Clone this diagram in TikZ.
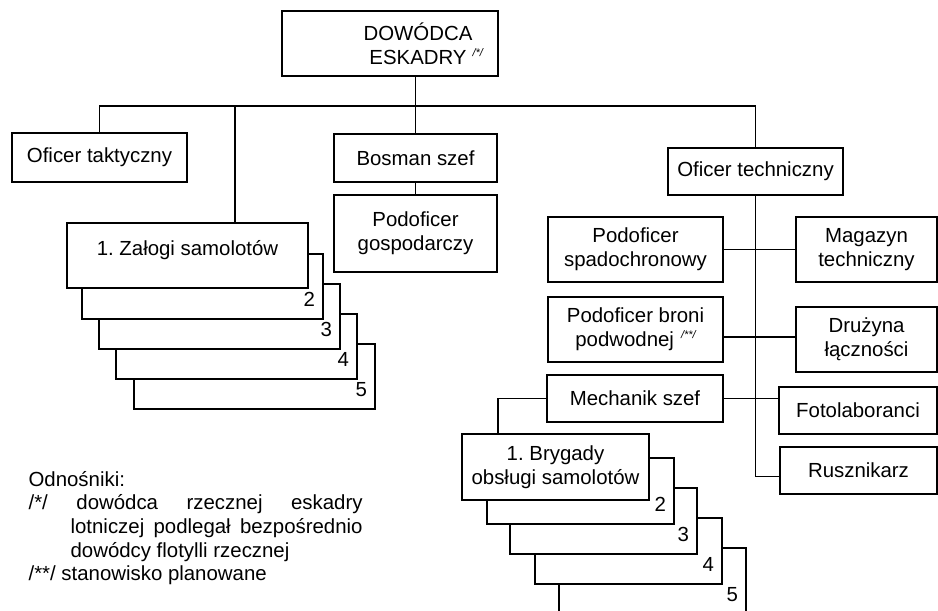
\documentclass[tikz,border=0pt]{standalone}
\usepackage{fontspec}
\setmainfont{Liberation Sans}
\usetikzlibrary{calc}
\frenchspacing
\newcommand\refmark[1]{\raisebox{8pt}{\fontsize{11}{11}\selectfont\itshape #1}}
\begin{document}
\begin{tikzpicture}[x=1pt, y=-1pt, line width=1.2pt,
    font=\fontsize{20.4}{24}\selectfont\frenchspacing,
    box/.style={draw, fill=white, align=center, inner sep=0pt},
    num/.style={anchor=base east, inner sep=0pt}]
  \useasboundingbox (0,0) rectangle (938,611);
  %nodes
  \node[box, minimum width=216pt, minimum height=65pt] at (390,43.5) (dow) {};
  \node[align=center, inner sep=0pt] at (418,43.5) (dowtxt) {DOWÓDCA\\ESKADRY\rlap{\hspace{6pt}\refmark{/*/}}};
  \node[box, minimum width=175pt, minimum height=49pt] at (99.5,157.5) (otak) {Oficer taktyczny};
  \node[box, minimum width=163pt, minimum height=48pt] at (415.5,158) (bos) {Bosman szef};
  \node[box, minimum width=163pt, minimum height=77pt] at (415.5,233.5) (pgos) {Podoficer\\gospodarczy};
  \node[box, minimum width=175pt, minimum height=47pt] at (755.5,171.5) (otech) {Oficer techniczny};
  \node[box, minimum width=175pt, minimum height=65pt] at (635.5,249.5) (pspad) {Podoficer\\spadochronowy};
  \node[box, minimum width=141pt, minimum height=65pt] at (866.5,249.5) (mag) {Magazyn\\techniczny};
  \node[box, minimum width=175pt, minimum height=65pt] at (635.5,329.5) (pbron) {Podoficer broni\\podwodnej\hspace{7pt}\refmark{/**/}};
  \node[box, minimum width=141pt, minimum height=65pt] at (866.5,339.5) (druz) {Drużyna\\łączności};
  \node[box, minimum width=176pt, minimum height=47pt] at (635,398.5) (mech) {Mechanik szef};
  \node[box, minimum width=158pt, minimum height=47pt] at (858,410.5) (foto) {Fotolaboranci};
  \node[box, minimum width=157pt, minimum height=47pt] at (858.5,470.5) (rusz) {Rusznikarz};

  %stacked crews
  \foreach \k/\cx/\cy in {5/254.5/376.5, 4/236.5/346.5, 3/219.5/316.5, 2/202.5/286.5} {
    \node[box, minimum width=241pt, minimum height=65pt] at (\cx,\cy) (zal\k) {};
    \node[num] at ($(zal\k.south east)+(-8,-13)$) (zalnum\k) {\k};
  }
  \node[box, minimum width=241pt, minimum height=65pt] at (187.5,255.5) (zal1) {};
  \node at ($(zal1.center)+(0,-5)$) (zaltxt) {1. Załogi samolotów};

  %stacked brigades
  \foreach \k/\cx/\cy in {5/652.5/581, 4/628.5/551, 3/603.5/521, 2/580.5/491} {
    \node[box, minimum width=187pt, minimum height=66pt] at (\cx,\cy) (bryg\k) {};
    \node[num] at ($(bryg\k.south east)+(-8,-13)$) (brygnum\k) {\k};
  }
  \node[box, minimum width=187pt, minimum height=66pt] at (555.5,467) (bryg1) {1. Brygady\\obsługi samolotów};

  %connectors
  \coordinate (bus) at (0,106);
  \coordinate (zaltop) at ($(zal1.north)+(47.5,0)$);
  \coordinate (brygtop) at ($(bryg1.north)+(-57.5,0)$);
  \coordinate (druzin) at ($(druz.west)+(0,-2.5)$);
  \draw (otak.north) |- (bus -| otech.north) -- (otech.north);
  \draw (dow.south -| bos.north) -- (bos.north);
  \draw (zaltop) -- (zaltop |- bus);
  \draw (bos.south) -- (pgos.north);
  \draw (otech.south) |- ([yshift=-6pt]rusz.west);
  \draw (pspad.east) -- (mag.west);
  \draw (pbron.east |- druzin) -- (druzin);
  \draw (mech.east) -- (mech.east -| foto.west);
  \draw (mech.west) -| (brygtop);

  %footnotes
  \node[anchor=north west, inner sep=0pt, text width=334pt, align=justify,
        font=\fontsize{20.4}{23.7}\selectfont] at (28,470.5) (odn)
    {\parindent=0pt Odnośniki:\par
     \hangindent=42pt\hangafter=1 /*/ dowódca rzecznej eskadry\linebreak
     lotniczej podlegał bezpośrednio\linebreak dowódcy flotylli rzecznej\par
     /**/ stanowisko planowane};
\end{tikzpicture}
\end{document}
